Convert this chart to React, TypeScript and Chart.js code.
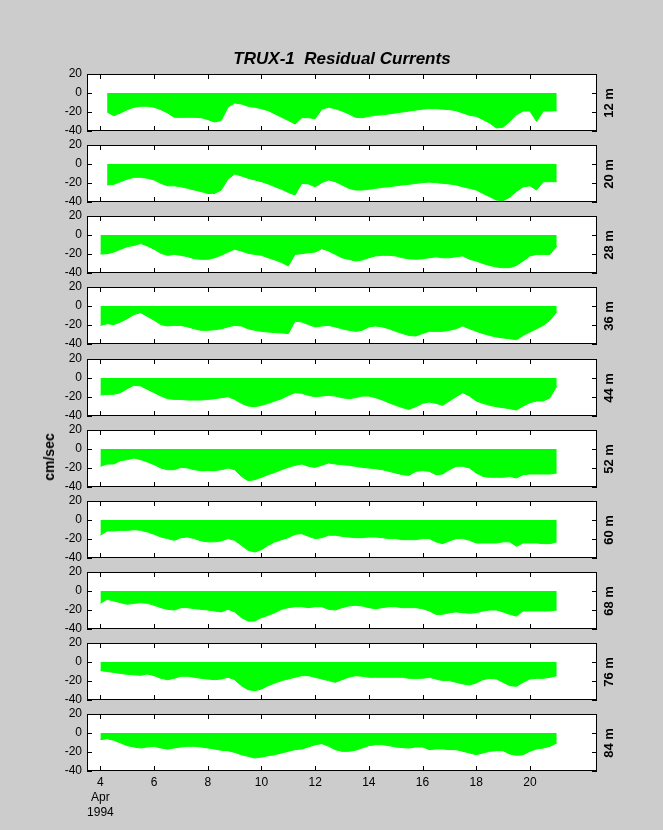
import React, { useEffect, useRef } from "react";
import { Chart, registerables } from "chart.js";

Chart.register(...registerables);

// ---------- data ----------
const titleText = "TRUX-1  Residual Currents";
const yAxisTitle = "cm/sec";
const monthLabel = "Apr";
const yearLabel = "1994";

// sample times (day of April 1994)
const days = [
  4, 4.25, 4.5, 4.75, 5, 5.25, 5.5, 5.75, 6, 6.25, 6.5, 6.75, 7, 7.25, 7.5, 7.75,
  8, 8.25, 8.5, 8.75, 9, 9.25, 9.5, 9.75, 10, 10.25, 10.5, 10.75, 11, 11.25, 11.5, 11.75,
  12, 12.25, 12.5, 12.75, 13, 13.25, 13.5, 13.75, 14, 14.25, 14.5, 14.75, 15, 15.25, 15.5, 15.75,
  16, 16.25, 16.5, 16.75, 17, 17.25, 17.5, 17.75, 18, 18.25, 18.5, 18.75, 19, 19.25, 19.5, 19.75,
  20, 20.25, 20.5, 20.75, 21,
];

const depths = ["12 m", "20 m", "28 m", "36 m", "44 m", "52 m", "60 m", "68 m", "76 m", "84 m"];

// stick-tip (north) component envelope, cm/sec
const v12 = [
  null, -20, -24, -21, -17.5, -15, -14, -14, -15, -17.5, -21, -25.6, -25.6, -25.6, -25.6, -26,
  -28, -30.5, -29, -15, -10.5, -11.5, -14, -15, -16.5, -18.6, -22, -25.6, -29, -32.6, -26, -26,
  -27, -17, -15, -16.5, -19, -22, -25.6, -26, -24.6, -23.5, -23, -22, -21, -20, -19, -18,
  -17, -16.5, -16.5, -17, -17.5, -18.6, -21, -23.5, -24.6, -28, -31.6, -36.8, -36, -30, -23, -19,
  -19, -30, -19, -19, -18.6,
];
const v20 = [
  null, -22, -21.4, -18.6, -16, -14, -14, -15, -16.8, -20.4, -23, -23, -24, -25.6, -27.4, -29,
  -31, -31, -27.4, -16, -10.5, -12.6, -15, -16.8, -18.6, -21, -24, -26.7, -30, -32.6, -20.4, -21,
  -24, -19.6, -16.8, -18.6, -22, -25.6, -27.4, -27.4, -26.7, -25.6, -24.6, -24, -23, -22, -21.4, -20.4,
  -19.6, -19, -19.6, -20.4, -21, -22, -24, -25.6, -27.4, -31, -34.4, -38, -38.6, -35, -29, -24,
  -23, -27.4, -18.6, -18.6, -18.6,
];
const v28 = [
  -20, -19.7, -18, -15, -12.3, -11, -9, -11.6, -15, -19.3, -21.4, -20.4, -21.4, -22.8, -25, -25.6,
  -25.6, -24, -21.4, -18, -15, -16.8, -19.3, -20.4, -21.4, -24, -26.3, -29, -32.6, -20.4, -19.7, -18.6,
  -18, -14.4, -16.8, -20.4, -24, -25.6, -27.4, -26.3, -24, -22, -21.4, -21.4, -22, -24, -25, -25.6,
  -25, -24, -23, -24, -24, -22.8, -22, -25.6, -27.4, -30, -32, -33.7, -34.4, -34.4, -32, -27.4,
  -22, -20.4, -20.4, -20.4, -11.6,
];
const v36 = [
  -20.4, -18.6, -19.6, -16.8, -13.3, -9, -7, -11, -15, -19.6, -21, -20.4, -20.4, -22, -24, -25.6,
  -25.6, -25, -24, -22, -20.4, -21, -24, -25.6, -26.7, -27.4, -28, -28.4, -29, -16, -16.8, -19.6,
  -22, -21, -20.4, -22, -24, -25.6, -26.7, -25.6, -22, -21, -22, -24, -26.7, -29, -31, -31.6,
  -29, -26.7, -26.7, -26.7, -25.6, -24, -21, -24, -26.7, -29, -31, -32.6, -33.7, -34.4, -35.5, -31,
  -27.4, -24, -20.4, -15, -6,
];
const v44 = [
  -18, -17.2, -17.2, -15.4, -11.2, -7.7, -8.4, -12, -15.4, -19, -21.8, -22.5, -22.5, -23.2, -23.2, -23.2,
  -22.5, -21.8, -20.7, -19.7, -22.5, -26.7, -29.5, -30.2, -28.8, -26.7, -24.2, -21.8, -18.3, -15.4, -16.1, -18.3,
  -19.7, -19, -18.3, -19, -20.7, -21.8, -20.7, -19, -19, -20.7, -23.2, -26, -28.8, -31.2, -33, -30.2,
  -26.7, -25.3, -26.7, -28.8, -24.2, -19.7, -15.4, -19, -24.2, -26.7, -28.8, -30.2, -31.2, -32.3, -33.7, -29.5,
  -26, -24.2, -24.2, -20.7, -8.4,
];
const v52 = [
  -18.2, -15.8, -15.8, -12.3, -11.2, -9.5, -11.2, -13.7, -16.5, -20, -21.8, -21.8, -19.3, -20, -21.8, -22.8,
  -22.8, -22.8, -21.8, -20, -21.8, -28.8, -33.3, -32.3, -29.8, -27, -24.6, -21.8, -19.3, -17.2, -15.8, -18.2,
  -19.3, -17.2, -14.7, -15.8, -16.5, -17.2, -18.2, -19.3, -20, -20.7, -21.8, -23.5, -25.3, -27, -27.7, -23.5,
  -22.8, -23.5, -27, -26.3, -21.8, -18.2, -18.2, -20, -25.3, -28.8, -29.8, -29.8, -29.8, -28.8, -30.5, -27,
  -26.3, -26.3, -26.3, -26.3, -25.3,
];
const v60 = [
  -16, -11.5, -11.5, -10.9, -10.9, -10.2, -10.9, -12.6, -15, -17.9, -19.6, -21.4, -18.6, -17.9, -19.6, -22,
  -23, -23, -22, -19.6, -21.4, -26.7, -31.9, -33.7, -31.2, -26.7, -23, -20.7, -18.6, -15, -14.4, -17.2,
  -19.6, -18.6, -16.1, -16.1, -17.2, -17.9, -18.6, -18.6, -17.9, -17.9, -18.6, -19.6, -19.6, -20.7, -20.7, -20.7,
  -19.6, -19.6, -23, -24.9, -22, -19.6, -19.6, -21.4, -24.2, -24.2, -24.2, -24.2, -23, -23, -27.7, -24.2,
  -24.2, -24.2, -24.9, -24.9, -23,
];
const v68 = [
  -13, -8.8, -10.5, -12.3, -14, -13, -12.3, -13, -15, -17.5, -19.3, -20, -17.5, -17.5, -18.6, -19.3,
  -20, -21, -22, -19.3, -22, -28, -31.6, -31.6, -28, -25.6, -22.8, -19.3, -17.5, -16.5, -16.5, -17.5,
  -16.5, -16.5, -19.3, -20, -17.5, -15.8, -15, -15.8, -17.5, -18.6, -17.5, -16.5, -16.5, -17.5, -17.5, -17.5,
  -18.6, -21, -24.6, -24.6, -22.8, -22, -22.8, -23.5, -22.8, -21, -20, -20, -22, -24.6, -26.3, -21,
  -21, -21, -21, -21, -20,
];
const v76 = [
  -9, -10, -11, -12, -13, -13.5, -14, -12.6, -14.4, -17.2, -18.6, -17.2, -15, -15, -16.1, -17.2,
  -17.9, -18.6, -17.9, -16.1, -18.6, -24.9, -29.1, -30.2, -28.4, -24.9, -22.1, -19.6, -17.9, -16.1, -14.4, -14.4,
  -16.1, -17.9, -19.6, -21.4, -18.6, -16.1, -14.4, -15, -16.1, -16.1, -16.1, -16.1, -16.1, -16.1, -17.2, -17.2,
  -17.2, -16.1, -17.9, -19.6, -19.6, -21.4, -23.1, -24.2, -22.1, -18.6, -17.2, -17.9, -21.4, -24.9, -25.6, -21.4,
  -17.9, -17.2, -17.2, -16.1, -14.4,
];
const v84 = [
  -7, -6, -7.7, -10.5, -13.3, -14.7, -15.8, -14.7, -14, -15.8, -16.8, -15.8, -14.7, -14, -14, -14.7,
  -15.8, -16.8, -18.2, -18.6, -20.4, -22.8, -24.6, -26.3, -25.3, -23.9, -22.8, -21, -19.3, -17.5, -16.8, -14.7,
  -12.3, -11.2, -14, -17.5, -19.3, -19.3, -18.2, -15.8, -13.3, -12.3, -12.3, -13.3, -14.7, -15.4, -15.8, -14.7,
  -14.7, -17.5, -16.8, -16.8, -17.5, -17.5, -19.3, -21, -22.8, -21, -19.3, -18.6, -18.6, -22.1, -23.5, -22.8,
  -19.3, -16.8, -15.8, -14, -10.5,
];

const seriesList = [v12, v20, v28, v36, v44, v52, v60, v68, v76, v84];

const xTicks = [4, 6, 8, 10, 12, 14, 16, 18, 20];
const yTicks = [-40, -20, 0, 20];

// ---------- layout ----------
const W = 663;
const H = 830;
const PLOT_LEFT = 87;
const PLOT_RIGHT = 597;
const PANEL_TOP0 = 74;
const PANEL_STEP = 71.15;
const PANEL_H = 57;
const FONT = '"Liberation Sans", Arial, Helvetica, sans-serif';
const GREEN = "#00ff00";

const panelTop = (i: number) => Math.round(PANEL_TOP0 + i * PANEL_STEP);

const framePlugin = {
  id: "matlabFrame",
  beforeDraw(chart: any) {
    const { ctx, chartArea } = chart;
    const { left, top, right, bottom } = chartArea;
    ctx.save();
    ctx.fillStyle = "#ffffff";
    ctx.fillRect(left, top, right - left, bottom - top);
    ctx.restore();
  },
  afterDraw(chart: any) {
    const { ctx, chartArea, scales } = chart;
    const { left, top, right, bottom } = chartArea;
    const tl = 5;
    ctx.save();
    ctx.strokeStyle = "#000000";
    ctx.lineWidth = 1;
    ctx.strokeRect(left + 0.5, top + 0.5, right - left - 1, bottom - top - 1);
    ctx.beginPath();
    for (const v of xTicks) {
      const px = Math.round(scales.x.getPixelForValue(v)) + 0.5;
      ctx.moveTo(px, bottom);
      ctx.lineTo(px, bottom - tl);
      ctx.moveTo(px, top);
      ctx.lineTo(px, top + tl);
    }
    for (const v of yTicks) {
      const py = Math.round(scales.y.getPixelForValue(v)) + 0.5;
      ctx.moveTo(left, py);
      ctx.lineTo(left + tl, py);
      ctx.moveTo(right, py);
      ctx.lineTo(right - tl, py);
    }
    ctx.stroke();
    ctx.restore();
  },
};

function Panel({ index, values, isLast }: { index: number; values: (number | null)[]; isLast: boolean }) {
  const ref = useRef<HTMLCanvasElement>(null);
  useEffect(() => {
    const top = panelTop(index);
    const bottom = top + PANEL_H;
    const chart = new Chart(ref.current as HTMLCanvasElement, {
      type: "line",
      data: {
        datasets: [
          {
            data: days.map((d, i) => ({ x: d, y: values[i] })) as any,
            borderColor: GREEN,
            backgroundColor: GREEN,
            borderWidth: 1,
            pointRadius: 0,
            tension: 0,
            spanGaps: false,
            fill: { value: 0 } as any,
          },
        ],
      },
      options: {
        responsive: false,
        animation: false,
        events: [],
        layout: { padding: { left: 0, right: W - PLOT_RIGHT, top, bottom: 0 } },
        plugins: {
          legend: { display: false },
          tooltip: { enabled: false },
          title: { display: false },
        },
        scales: {
          x: {
            type: "linear",
            min: 3.5,
            max: 22.5,
            position: "bottom",
            grid: { display: false, drawTicks: false },
            border: { display: false },
            afterBuildTicks: (s: any) => {
              s.ticks = xTicks.map((v) => ({ value: v }));
            },
            afterFit: (s: any) => {
              s.height = H - bottom;
            },
            ticks: {
              display: isLast,
              autoSkip: false,
              maxRotation: 0,
              minRotation: 0,
              padding: 4,
              color: "#000000",
              font: { family: FONT, size: 12, lineHeight: 1.25 },
              callback: (v: any) => (v === xTicks[0] ? [String(v), monthLabel, yearLabel] : String(v)),
            },
          },
          y: {
            type: "linear",
            min: -40,
            max: 20,
            position: "left",
            grid: { display: false, drawTicks: false },
            border: { display: false },
            afterBuildTicks: (s: any) => {
              s.ticks = yTicks.map((v) => ({ value: v }));
            },
            afterFit: (s: any) => {
              s.width = PLOT_LEFT;
            },
            ticks: {
              padding: 5,
              color: "#000000",
              font: { family: FONT, size: 12 },
              callback: (v: any) => String(v),
            },
          },
        },
      } as any,
      plugins: [framePlugin],
    });
    return () => chart.destroy();
  }, [index, values, isLast]);
  return (
    <canvas
      ref={ref}
      width={W}
      height={H}
      style={{ position: "absolute", left: 0, top: 0, width: W, height: H }}
    />
  );
}

export default function App() {
  return (
    <div
      style={{
        position: "absolute",
        left: 0,
        top: 0,
        width: W,
        height: H,
        background: "#cccccc",
        overflow: "hidden",
        fontFamily: FONT,
      }}
    >
      {seriesList.map((vals, i) => (
        <Panel key={i} index={i} values={vals} isLast={i === seriesList.length - 1} />
      ))}
      <div
        style={{
          position: "absolute",
          left: PLOT_LEFT,
          width: PLOT_RIGHT - PLOT_LEFT,
          top: 50,
          textAlign: "center",
          fontSize: 17,
          lineHeight: "17px",
          fontWeight: "bold",
          fontStyle: "italic",
          color: "#000",
          whiteSpace: "pre",
        }}
      >
        {titleText}
      </div>
      <div
        style={{
          position: "absolute",
          left: 49,
          top: 457,
          transform: "translate(-50%, -50%) rotate(-90deg)",
          fontSize: 14,
          lineHeight: "14px",
          fontWeight: "bold",
          color: "#000",
          whiteSpace: "nowrap",
        }}
      >
        {yAxisTitle}
      </div>
      {depths.map((d, i) => (
        <div
          key={d}
          style={{
            position: "absolute",
            left: 608,
            top: panelTop(i) + PANEL_H / 2,
            transform: "translate(-50%, -50%) rotate(-90deg)",
            fontSize: 13,
            lineHeight: "13px",
            fontWeight: "bold",
            color: "#000",
            whiteSpace: "nowrap",
          }}
        >
          {d}
        </div>
      ))}
    </div>
  );
}
